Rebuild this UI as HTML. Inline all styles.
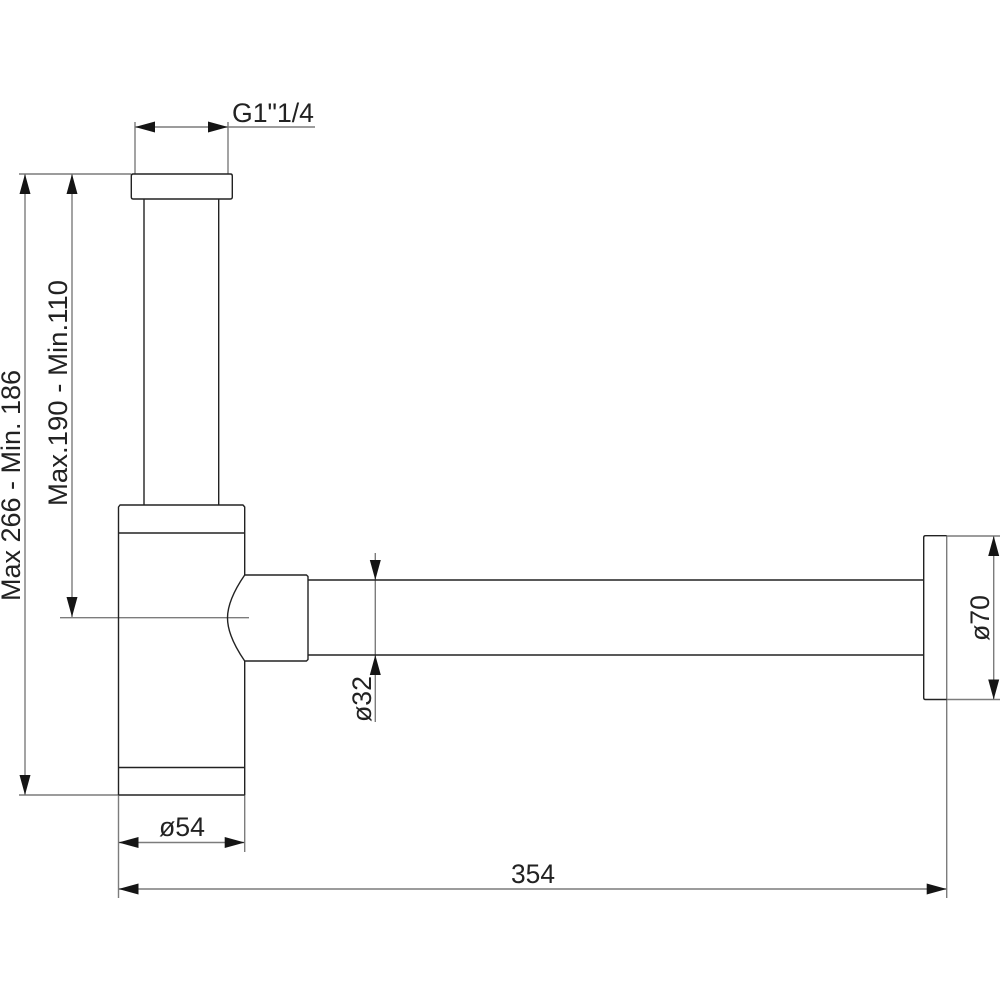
<!DOCTYPE html>
<html><head><meta charset="utf-8"><style>html,body{margin:0;padding:0;background:#fff}svg{display:block}text{font-family:"Liberation Sans",sans-serif;font-size:26.5px;fill:#222}</style></head>
<body><svg width="1000" height="1000" viewBox="0 0 1000 1000" xmlns="http://www.w3.org/2000/svg">
<rect width="1000" height="1000" fill="#fff"/>
<g fill="none" stroke="#7c7c7c" stroke-width="1.4">
<path d="M135 122V174M228 122V174M135 127H228M228 127H315"/>
<path d="M19 174H131M19 795H118M25 174V795M72 174V617M60 617.7H249"/>
<path d="M375.3 553V722M118.5 795V898M244.7 795V852M118.5 842.5H244.7M118.5 889H946.7M946.7 536V898M946.7 536H1000M946.7 699.5H1000M993.7 536V699.5"/>
</g>
<g fill="none" stroke="#222" stroke-width="1.4" stroke-linejoin="round">
<path d="M133 174H230.5Q232.3 174 232.3 176V197Q232.3 199 230.5 199H133Q131.3 199 131.3 197V176Q131.3 174 133 174Z"/>
<path d="M144 199V505M218.7 199V505"/>
<path d="M118.5 795V507L120 505H243L244.7 507V575M118.5 533H244.7M118.5 767.5H244.7M118.5 795H244.7M244.7 661V795"/>
<path d="M244.7 575H306.5L308 576.5V659.5L306.5 661H244.7Q227.5 636 227.5 618Q227.5 600 244.7 575Z"/>
<path d="M308 580H923.7M308 655H923.7"/>
<path d="M925.5 535.7H946.7M925.5 699.5H946.7M923.7 537.5V697.7Q923.7 699.5 925.5 699.5M923.7 537.5Q923.7 535.7 925.5 535.7"/>
</g>
<g fill="#151515">
<path d="M135 127l20-5.5v11zM228 127l-20-5.5v11z"/>
<path d="M25 174l-5.5 20h11zM25 795l-5.5-20h11zM72 174l-5.5 20h11zM72 617l-5.5-20h11z"/>
<path d="M375.3 580l-5.5-20h11zM375.3 655l-5.5 20h11z"/>
<path d="M118.5 842.5l20-5.5v11zM244.7 842.5l-20-5.5v11zM118.5 889l20-5.5v11zM946.7 889l-20-5.5v11z"/>
<path d="M993.7 536l-5.5 20h11zM993.7 699.5l-5.5-20h11z"/>
</g>
<text x="232" y="122" textLength="82" lengthAdjust="spacingAndGlyphs">G1"1/4</text>
<text x="159" y="836" textLength="46" lengthAdjust="spacingAndGlyphs">ø54</text>
<text x="511" y="883" textLength="44" lengthAdjust="spacingAndGlyphs">354</text>
<text transform="translate(20 601) rotate(-90)" textLength="231" lengthAdjust="spacingAndGlyphs">Max 266 - Min. 186</text>
<text transform="translate(67 506) rotate(-90)" textLength="226" lengthAdjust="spacingAndGlyphs">Max.190 - Min.110</text>
<text transform="translate(371 722) rotate(-90)" textLength="46" lengthAdjust="spacingAndGlyphs">ø32</text>
<text transform="translate(989 641) rotate(-90)" textLength="46" lengthAdjust="spacingAndGlyphs">ø70</text>
</svg></body></html>
